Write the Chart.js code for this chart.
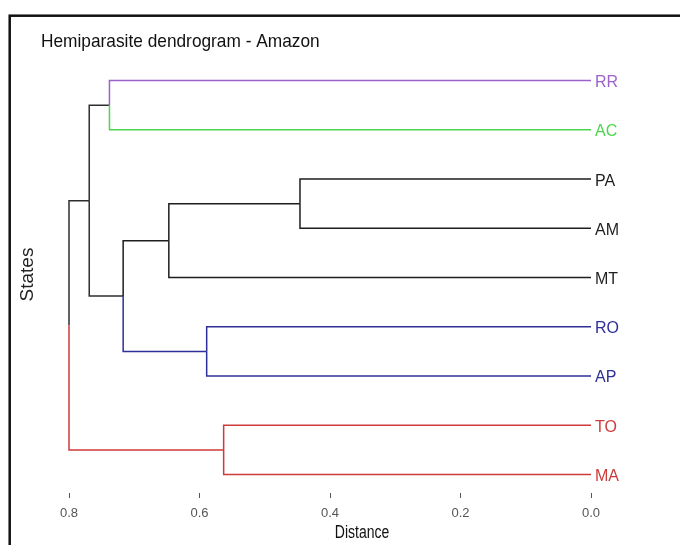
<!DOCTYPE html>
<html>
<head>
<meta charset="utf-8">
<script src="https://cdn.jsdelivr.net/npm/chart.js@4"></script>
<style>
  html, body { margin: 0; padding: 0; background: #fff; }
  canvas { display: block; }
</style>
</head>
<body>
<canvas id="c" width="680" height="545"></canvas>
<script>
// ---- data ----
const chartTitle = 'Hemiparasite dendrogram - Amazon';
const xTitle = 'Distance';
const yTitle = 'States';
// leaves, top to bottom
const leafLabels = ['RR', 'AC', 'PA', 'AM', 'MT', 'RO', 'AP', 'TO', 'MA'];
const leafCluster = [0, 1, 2, 2, 2, 3, 3, 4, 4];
const clusterColors = ['#9c62c9', '#4fd64f', '#1e1e1e', '#2f2f99', '#cf3b3b'];
const mixedColor = '#2e2e2e';
// merges (hclust style: negative = leaf number, positive = earlier merge number)
const mergeA = [-1, -3, 2, -6, 3, 1, -8, 6];
const mergeB = [-2, -4, -5, -7, 4, 5, -9, 7];
const mergeHeight = [0.738, 0.446, 0.647, 0.589, 0.717, 0.769, 0.563, 0.800];
const xTicks = [0, 0.2, 0.4, 0.6, 0.8];

// ---- build branch segments ----
const mergeY = [], mergeCol = [];
function nodeY(id) { return id < 0 ? -id : mergeY[id - 1]; }
function nodeH(id) { return id < 0 ? 0 : mergeHeight[id - 1]; }
function nodeC(id) { return id < 0 ? clusterColors[leafCluster[-id - 1]] : mergeCol[id - 1]; }
const datasets = [];
for (let m = 0; m < mergeA.length; m++) {
  const a = mergeA[m], b = mergeB[m], H = mergeHeight[m];
  const ya = nodeY(a), yb = nodeY(b), ym = (ya + yb) / 2;
  mergeY.push(ym);
  const ca = nodeC(a), cb = nodeC(b);
  mergeCol.push(ca === cb ? ca : mixedColor);
  datasets.push({ data: [{x: nodeH(a), y: ya}, {x: H, y: ya}, {x: H, y: ym}], borderColor: ca });
  datasets.push({ data: [{x: H, y: ym}, {x: H, y: yb}, {x: nodeH(b), y: yb}], borderColor: cb });
}
datasets.forEach(d => Object.assign(d, {
  showLine: true, pointRadius: 0, borderWidth: 1.5, fill: false, tension: 0,
  borderCapStyle: 'butt', borderJoinStyle: 'miter', clip: false
}));

const framePlugin = {
  id: 'frame',
  beforeDraw(chart) {
    const ctx = chart.ctx;
    ctx.save();
    ctx.fillStyle = '#fff';
    ctx.fillRect(0, 0, chart.width, chart.height);
    ctx.strokeStyle = '#111';
    ctx.lineWidth = 2.5;
    ctx.strokeRect(9.7, 15.7, 800, 800);
    ctx.restore();
  },
  afterDraw(chart) {
    const ctx = chart.ctx;
    ctx.save();
    ctx.fillStyle = '#111';
    ctx.textBaseline = 'alphabetic';
    ctx.font = '19px "Liberation Sans", Arial, sans-serif';
    ctx.translate(41, 46.5);
    ctx.scale(0.91, 1);
    ctx.fillText(chartTitle, 0, 0);
    ctx.restore();
    ctx.save();
    ctx.fillStyle = '#111';
    ctx.textAlign = 'center';
    ctx.textBaseline = 'alphabetic';
    ctx.font = '17.5px "Liberation Sans", Arial, sans-serif';
    ctx.translate(362, 538);
    ctx.scale(0.8, 1);
    ctx.fillText(xTitle, 0, 0);
    ctx.restore();
  }
};

new Chart(document.getElementById('c'), {
  type: 'line',
  data: { datasets },
  options: {
    responsive: false,
    animation: false,
    devicePixelRatio: 1,
    layout: { padding: { top: 56, left: 0, right: 0, bottom: 0 } },
    plugins: { legend: { display: false }, tooltip: { enabled: false }, title: { display: false } },
    scales: {
      x: {
        type: 'linear', position: 'bottom', reverse: true, min: 0, max: 0.8,
        afterBuildTicks: s => { s.ticks = xTicks.map(v => ({ value: v })); },
        afterFit: s => { s.height = 52; },
        grid: { display: true, drawOnChartArea: false, drawTicks: true, tickLength: 5, color: '#555', lineWidth: 1 },
        border: { display: false },
        ticks: {
          padding: 8, color: '#555',
          font: { family: '"Liberation Sans", Arial', size: 13 },
          callback: v => Number(v).toFixed(1)
        },
        title: { display: false }
      },
      y: {
        type: 'linear', position: 'right', reverse: true, min: 0.5, max: 9.375,
        afterBuildTicks: s => { s.ticks = leafLabels.map((l, i) => ({ value: i + 1 })); },
        afterFit: s => { s.width = 89; },
        grid: { display: false, drawTicks: false },
        border: { display: false },
        ticks: {
          padding: 4, labelOffset: 2,
          font: { family: '"Liberation Sans", Arial', size: 16 },
          color: c => clusterColors[leafCluster[Math.round(c.tick.value) - 1]],
          callback: v => leafLabels[Math.round(v) - 1]
        }
      },
      yl: {
        type: 'linear', position: 'left', reverse: true, min: 0.5, max: 9.375,
        afterFit: s => { s.width = 69; },
        grid: { display: false, drawTicks: false },
        border: { display: false },
        ticks: { display: false },
        title: {
          display: true, text: yTitle, color: '#222',
          font: { family: '"Liberation Sans", Arial', size: 19 },
          padding: { top: 16, bottom: 0 }
        }
      }
    }
  },
  plugins: [framePlugin]
});
</script>
</body>
</html>
